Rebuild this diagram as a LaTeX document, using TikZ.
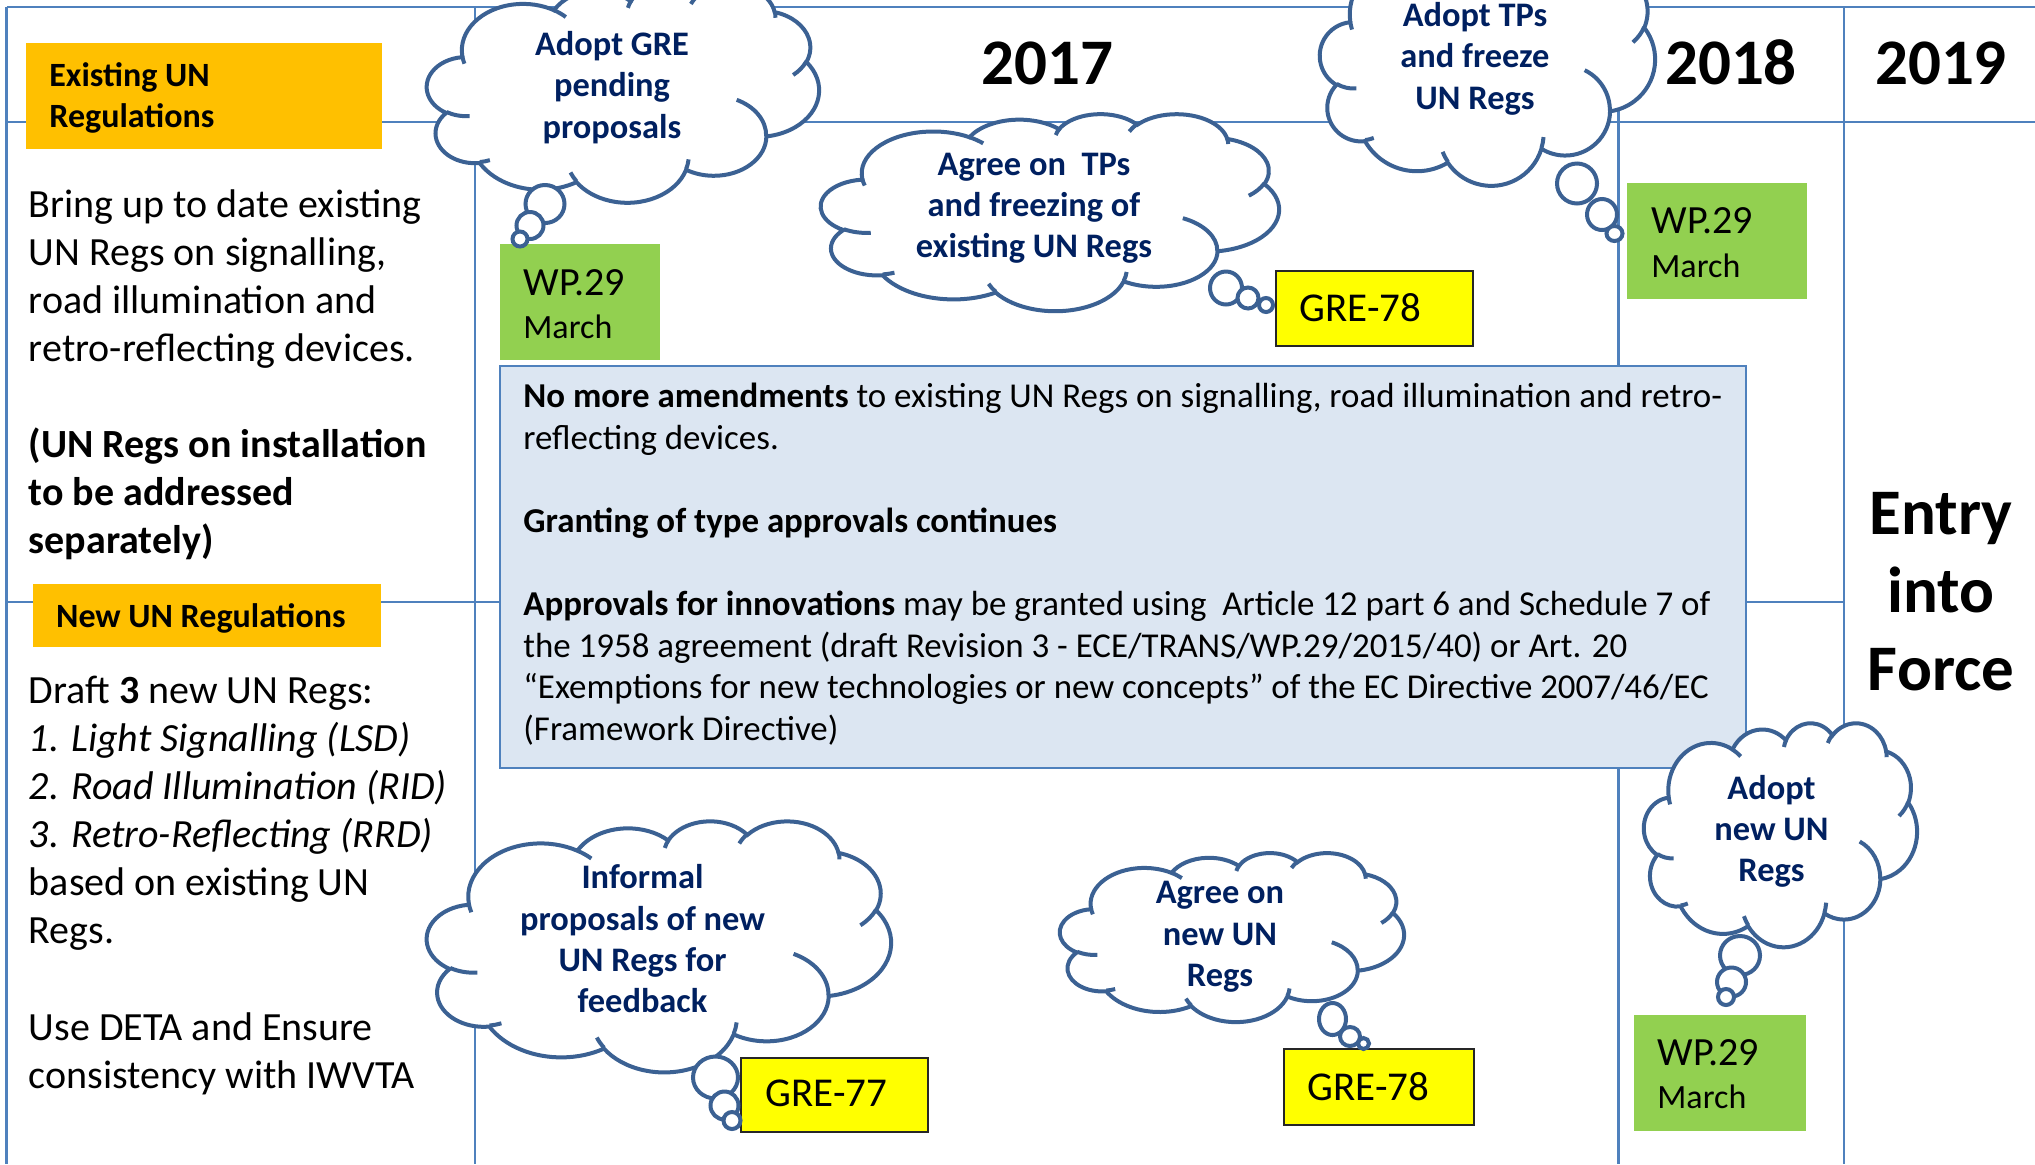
\documentclass[tikz,border=0pt]{standalone}
\usepackage{fontspec}
\setmainfont{Carlito}
\definecolor{gridblue}{HTML}{4F81BD}
\definecolor{cloudc}{HTML}{3B6193}
\definecolor{navy}{HTML}{002060}
\definecolor{orangeF}{HTML}{FFC000}
\definecolor{greenF}{HTML}{92D050}
\definecolor{yellowF}{HTML}{FFFF00}
\definecolor{blueF}{HTML}{DCE6F2}
% arc of a DrawingML cloud: wR hR stAng swAng (visual angles, path space 43200)
\newcommand\carc[4]{\pgfextra{%
  \pgfmathsetmacro\cta{atan2((#1)*sin(#3),(#2)*cos(#3))}%
  \pgfmathsetmacro\ctb{atan2((#1)*sin((#3)+(#4)),(#2)*cos((#3)+(#4)))}%
  \pgfmathsetmacro\ctd{mod(\ctb-\cta+720,360)}%
  \pgfmathsetmacro\crx{#1/43.2/1000}%
  \pgfmathsetmacro\cry{#2/43.2/1000}}%
  arc[start angle=\cta, delta angle=\ctd, x radius=\crx, y radius=\cry]}
\newcommand\thoughtcloud[4]{%
 \begin{scope}[shift={(#1,#2)},x={(#3*0.5pt,0pt)},y={(0pt,-#4*0.5pt)}]
  \draw[cloudline,fill=white] (0.09028,0.33264)
    \carc{6753}{9190}{-190.4875}{123.7805}
    \carc{5333}{7267}{-144.1024}{89.9452}
    \carc{4365}{5945}{-145.8079}{99.7230}
    \carc{4857}{6595}{-130.9861}{117.2417}
    \carc{5333}{7273}{-78.7089}{109.0269}
    \carc{6775}{9220}{-46.2673}{130.2690}
    \carc{5785}{7867}{0.6250}{114.0333}
    \carc{6752}{9215}{22.4516}{115.1726}
    \carc{7720}{10543}{66.2426}{75.7110}
    \carc{4360}{5918}{-274.9421}{146.7356}
    \carc{4345}{5945}{-246.8285}{152.5189} -- cycle;
  \draw[cloudline]
    (0.10863,0.60595) \carc{4345}{5945}{86.7420}{26.4295}
    (0.16037,0.80785) \carc{4360}{5918}{73.6105}{11.4475}
    (0.38144,0.90486) \carc{6752}{9215}{137.6242}{14.0811}
    (0.66729,0.80442) \carc{6752}{9215}{6.4533}{15.9984}
    (0.79002,0.53134) \carc{5785}{7867}{-70.2924}{70.9174}
    (0.96755,0.35542) \carc{5333}{7273}{30.3180}{27.7515}
    (0.88713,0.12560) \carc{4857}{6595}{-13.7443}{14.8589}
    (0.67310,0.09148) \carc{4857}{6595}{-149.1815}{18.1954}
    (0.51252,0.10926) \carc{4365}{5945}{-163.4943}{17.6864}
    (0.32407,0.12019) \carc{6753}{9190}{-66.7070}{12.3194}
    (0.09553,0.36549) \carc{6753}{9190}{157.6544}{11.8582};
 \end{scope}}
\tikzset{
 gridline/.style={draw=gridblue, line width=1.25pt},
 cloudline/.style={draw=cloudc, line width=2pt},
 bubble/.style={draw=cloudc, line width=2pt, fill=white},
 lefttxt/.style={anchor=base west, inner sep=0pt, font=\fontsize{20}{24}\selectfont},
 labeltxt/.style={anchor=base west, inner sep=0pt, font=\bfseries\fontsize{17}{20.75}\selectfont},
 cloudtxt/.style={anchor=base, inner sep=0pt, text=navy, font=\bfseries\fontsize{17.2}{20.75}\selectfont},
 boxtxt/.style={anchor=base west, inner sep=0pt, font=\fontsize{17.45}{20.8}\selectfont},
 yeartxt/.style={anchor=base, inner sep=0pt, font=\bfseries\fontsize{32.5}{39}\selectfont},
 wptxt/.style={anchor=base west, inner sep=0pt, font=\fontsize{20}{24}\selectfont},
 marchtxt/.style={anchor=base west, inner sep=0pt, font=\fontsize{17}{20}\selectfont},
 gretxt/.style={anchor=base west, inner sep=0pt, font=\fontsize{20.5}{24}\selectfont},
 orangebox/.style={fill=orangeF},
 greenbox/.style={fill=greenF},
 yellowbox/.style={fill=yellowF, draw=black!85, line width=0.9pt},
 bluebox/.style={fill=blueF, draw=gridblue, line width=1.25pt},
}
\begin{document}
\begin{tikzpicture}[x=0.5pt,y=-0.5pt]
\useasboundingbox (0,0) rectangle (2035,1164);
\clip (0,0) rectangle (2035,1164);
\fill[white] (0,0) rectangle (2035,1164);
% grid
\draw[gridline] (6.5,7) -- (2035,7);
\draw[gridline] (6.5,122) -- (2035,122);
\draw[gridline] (6.5,602) -- (1844,602);
\draw[gridline] (6.5,7) -- (6.5,1164);
\draw[gridline] (475,7) -- (475,1164);
\draw[gridline] (1618.5,7) -- (1618.5,1164);
\draw[gridline] (1844,7) -- (1844,1164);
% left column
\fill[orangebox] (26,43) rectangle (382,149);
\node[labeltxt] (ex1) at (49,86) {Existing UN};
\node[labeltxt] (ex2) at (49,127.5) {Regulations};
\node[lefttxt] (l1) at (28.5,217) {Bring up to date existing};
\node[lefttxt] (l2) at (28.5,265) {UN Regs on signalling,};
\node[lefttxt] (l3) at (28.5,313) {road illumination and};
\node[lefttxt] (l4) at (28.5,361) {retro-reflecting devices.};
\node[lefttxt,font=\bfseries\fontsize{20}{24}\selectfont] (l5) at (28.5,457) {(UN Regs on installation};
\node[lefttxt,font=\bfseries\fontsize{20}{24}\selectfont] (l6) at (28.5,505) {to be addressed};
\node[lefttxt,font=\bfseries\fontsize{20}{24}\selectfont] (l7) at (28.5,553) {separately)};
\fill[orangebox] (33,584) rectangle (381,647);
\node[labeltxt] (nw1) at (55.7,627.4) {New UN Regulations};
\node[lefttxt] (d1) at (28.5,703) {Draft \textbf{3} new UN Regs:};
\node[lefttxt] (d2) at (28.5,751) {\itshape 1. Light Signalling (LSD)};
\node[lefttxt] (d3) at (28.5,799) {\itshape 2. Road Illumination (RID)};
\node[lefttxt] (d4) at (28.5,847) {\itshape 3. Retro-Reflecting (RRD)};
\node[lefttxt] (d5) at (28.5,895) {based on existing UN};
\node[lefttxt] (d6) at (28.5,943) {Regs.};
\node[lefttxt] (d7) at (28.5,1040) {Use DETA and Ensure};
\node[lefttxt] (d8) at (28.5,1088) {consistency with IWVTA};
% blue box
\filldraw[bluebox] (500,366) rectangle (1746,768);
\node[boxtxt] (b1) at (523,407) {\textbf{No more amendments} to existing UN Regs on signalling, road illumination and retro-};
\node[boxtxt] (b2) at (523,449) {reflecting devices.};
\node[boxtxt] (b3) at (523,532) {\textbf{Granting of type approvals continues}};
\node[boxtxt] (b4) at (523,615.5) {\textbf{Approvals for innovations} may be granted using\ \ Article 12 part 6 and Schedule 7 of};
\node[boxtxt] (b5) at (523,657) {the 1958 agreement (draft Revision 3 - ECE/TRANS/WP.29/2015/40) or Art. 20};
\node[boxtxt] (b6) at (523,698.5) {“Exemptions for new technologies or new concepts” of the EC Directive 2007/46/EC};
\node[boxtxt] (b7) at (523,740) {(Framework Directive)};
% green boxes
\fill[greenbox] (500,244) rectangle (660,360);
\node[wptxt] (wa1) at (523,295) {WP.29};
\node[marchtxt] (wa2) at (523,338) {March};
\fill[greenbox] (1627,183) rectangle (1807,299);
\node[wptxt] (wb1) at (1651,233) {WP.29};
\node[marchtxt] (wb2) at (1651,277.7) {March};
\fill[greenbox] (1634,1015) rectangle (1806,1131);
\node[wptxt] (wc1) at (1657,1065) {WP.29};
\node[marchtxt] (wc2) at (1657,1108.3) {March};
% yellow boxes
\filldraw[yellowbox] (1276,271) rectangle (1473,346);
\node[gretxt] (g1) at (1299,321.7) {GRE-78};
\filldraw[yellowbox] (741,1058) rectangle (928,1132);
\node[gretxt] (g2) at (765,1106.7) {GRE-77};
\filldraw[yellowbox] (1284,1049) rectangle (1474,1125);
\node[gretxt] (g3) at (1307,1100) {GRE-78};
% headers
\node[yeartxt] (y17) at (1047.5,84) {2017};
\node[yeartxt] (y18) at (1731,84) {2018};
\node[yeartxt] (y19) at (1941,84) {2019};
\node[yeartxt] (ef1) at (1941,534) {Entry};
\node[yeartxt] (ef2) at (1941,612) {into};
\node[yeartxt] (ef3) at (1941,690) {Force};
% cloud 1
\thoughtcloud{427}{-16}{392}{218}
\draw[bubble] (545,204) ellipse [x radius=19.5, y radius=19];
\draw[bubble] (530,225.5) ellipse [x radius=13.5, y radius=13.5];
\draw[bubble] (520,239) ellipse [x radius=7.5, y radius=7.5];
\node[cloudtxt] (c1a) at (612,55) {Adopt GRE};
\node[cloudtxt] (c1b) at (612,96.5) {pending};
\node[cloudtxt] (c1c) at (612,138) {proposals};
% cloud 2
\thoughtcloud{821}{113.5}{458}{197}
\draw[bubble] (1226,288) ellipse [x radius=16, y radius=16.5];
\draw[bubble] (1248,298) ellipse [x radius=10.5, y radius=10.5];
\draw[bubble] (1266,305) ellipse [x radius=7, y radius=7];
\node[cloudtxt] (c2a) at (1034,175) {Agree on\ \ TPs};
\node[cloudtxt] (c2b) at (1034,216.7) {and freezing of};
\node[cloudtxt] (c2c) at (1034,257) {existing UN Regs};
% cloud 3
\thoughtcloud{1320}{-60}{335}{245}
\draw[bubble] (1577,183.5) ellipse [x radius=20, y radius=20];
\draw[bubble] (1602,214.5) ellipse [x radius=15, y radius=15.5];
\draw[bubble] (1614.5,233.5) ellipse [x radius=8, y radius=7.5];
\node[cloudtxt] (c3a) at (1475,26) {Adopt TPs};
\node[cloudtxt] (c3b) at (1475,67.5) {and freeze};
\node[cloudtxt] (c3c) at (1475,109) {UN Regs};
% cloud 4
\thoughtcloud{427}{820.5}{464}{251}
\draw[bubble] (715.5,1077.5) ellipse [x radius=22.5, y radius=21];
\draw[bubble] (724.5,1105.5) ellipse [x radius=14, y radius=14];
\draw[bubble] (732,1120.5) ellipse [x radius=8.5, y radius=8.5];
\node[cloudtxt] (c4a) at (642.5,888.3) {Informal};
\node[cloudtxt] (c4b) at (642.5,930) {proposals of new};
\node[cloudtxt] (c4c) at (642.5,971.7) {UN Regs for};
\node[cloudtxt] (c4d) at (642.5,1012.7) {feedback};
% cloud 5
\thoughtcloud{1060}{852.5}{344}{169}
\draw[bubble] (1332.5,1019) ellipse [x radius=13.5, y radius=16];
\draw[bubble] (1350,1036.5) ellipse [x radius=10, y radius=9.5];
\draw[bubble] (1363.5,1043.5) ellipse [x radius=5.5, y radius=5.5];
\node[cloudtxt] (c5a) at (1220,903.3) {Agree on};
\node[cloudtxt] (c5b) at (1220,945) {new UN};
\node[cloudtxt] (c5c) at (1220,986.7) {Regs};
% cloud 6
\thoughtcloud{1644}{722.5}{273}{224}
\draw[bubble] (1740,955.5) ellipse [x radius=20, y radius=19.5];
\draw[bubble] (1731.5,982) ellipse [x radius=14.5, y radius=14.5];
\draw[bubble] (1726,997) ellipse [x radius=8, y radius=8];
\node[cloudtxt] (c6a) at (1771.5,799.3) {Adopt};
\node[cloudtxt] (c6b) at (1771.5,840) {new UN};
\node[cloudtxt] (c6c) at (1771.5,881.7) {Regs};
\end{tikzpicture}
\end{document}
